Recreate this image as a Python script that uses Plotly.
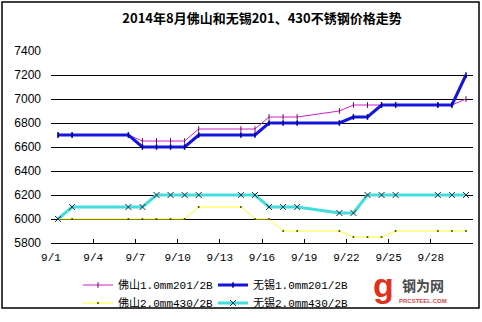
import plotly.graph_objects as go

# ---- data ----
dates = ["2014-09-01", "2014-09-02", "2014-09-06", "2014-09-07", "2014-09-08", "2014-09-09",
         "2014-09-10", "2014-09-11", "2014-09-14", "2014-09-15", "2014-09-16", "2014-09-17",
         "2014-09-18", "2014-09-21", "2014-09-22", "2014-09-23", "2014-09-24", "2014-09-25",
         "2014-09-28", "2014-09-29", "2014-09-30"]
foshan_201 = [6700, 6700, 6700, 6650, 6650, 6650, 6650, 6750, 6750, 6750, 6850, 6850,
              6850, 6900, 6950, 6950, 6950, 6950, 6950, 6950, 7000]
wuxi_201 = [6700, 6700, 6700, 6600, 6600, 6600, 6600, 6700, 6700, 6700, 6800, 6800,
            6800, 6800, 6850, 6850, 6950, 6950, 6950, 6950, 7200]
foshan_430 = [6000, 6000, 6000, 6000, 6000, 6000, 6000, 6100, 6100, 6000, 6000, 5900,
              5900, 5900, 5850, 5850, 5850, 5900, 5900, 5900, 5900]
wuxi_430 = [6000, 6100, 6100, 6100, 6200, 6200, 6200, 6200, 6200, 6200, 6100, 6100,
            6100, 6050, 6050, 6200, 6200, 6200, 6200, 6200, 6200]
series_names = ["佛山1.0mm201/2B", "无锡1.0mm201/2B", "佛山2.0mm430/2B", "无锡2.0mm430/2B"]
x_tick_vals = ["2014-09-01", "2014-09-04", "2014-09-07", "2014-09-10", "2014-09-13",
               "2014-09-16", "2014-09-19", "2014-09-22", "2014-09-25", "2014-09-28", "2014-10-01"]
x_tick_text = ["9/1", "9/4", "9/7", "9/10", "9/13", "9/16", "9/19", "9/22", "9/25", "9/28", ""]
title_text = "2014年8月佛山和无锡201、430不锈钢价格走势"

# ---- layout helpers (pixel -> paper / container) ----
W, H = 482, 322
L, R, T, B = 51, 9, 51, 79
PW, PH = W - L - R, H - T - B


def px(x):
    return (x - L) / PW


def py(y):
    return (H - B - y) / PH


def cx(x):
    return x / W


def cy(y):
    return 1 - y / H


DAY = 86400000
fig = go.Figure()
styles = [
    dict(line=dict(color="#CC22CC", width=1),
         marker=dict(symbol="line-ns", size=4, line=dict(color="#660066", width=1))),
    dict(line=dict(color="#1515DD", width=3),
         marker=dict(symbol="line-ns", size=4, line=dict(color="#000080", width=1.5))),
    dict(line=dict(color="#FFFF22", width=1),
         marker=dict(symbol="circle", size=2, color="#444400")),
    dict(line=dict(color="#44DDDD", width=3),
         marker=dict(symbol="x-thin", size=6, line=dict(color="#223344", width=1))),
]
legend_ids = ["legend", "legend", "legend2", "legend2"]
for name, vals, st, lg in zip(series_names, [foshan_201, wuxi_201, foshan_430, wuxi_430],
                              styles, legend_ids):
    fig.add_trace(go.Scatter(x=dates, y=vals, name=name, mode="lines+markers",
                             xperiod=DAY, xperiodalignment="middle",
                             line=st["line"], marker=st["marker"], legend=lg))

legend_common = dict(orientation="h", xref="container", yref="container",
                     xanchor="left", yanchor="middle",
                     entrywidth=90, entrywidthmode="pixels", tracegroupgap=0,
                     font=dict(family="Liberation Mono, Noto Sans CJK SC", size=11),
                     bgcolor="rgba(0,0,0,0)", itemwidth=30)

fig.update_layout(
    width=W, height=H,
    margin=dict(l=L, r=R, t=T, b=B, pad=0, autoexpand=False),
    paper_bgcolor="white", plot_bgcolor="white",
    font=dict(family="Liberation Mono, Noto Sans CJK SC", size=11, color="black"),
    title=dict(text=title_text, x=0.5, xref="paper", xanchor="center",
               y=1 - 18 / H, yanchor="middle",
               font=dict(family="Noto Sans CJK SC", size=13, color="black", weight="bold")),
    xaxis=dict(type="date", range=["2014-09-01", "2014-10-01"],
               tickmode="array", tickvals=x_tick_vals, ticktext=x_tick_text,
               showgrid=False, showline=True, linecolor="black", linewidth=1,
               ticks="inside", ticklen=4, tickcolor="black", tickwidth=1,
               ticklabelstandoff=4, zeroline=False,
               tickfont=dict(family="Liberation Mono, Noto Sans CJK SC", size=11)),
    yaxis=dict(range=[5800, 7400], dtick=200, tick0=5800, showgrid=True,
               gridcolor="black", gridwidth=1, showline=False, zeroline=False,
               ticks="", ticklabelstandoff=9,
               tickfont=dict(family="Liberation Sans, Arial", size=12)),
    legend=dict(legend_common, x=cx(78), y=cy(285)),
    legend2=dict(legend_common, x=cx(78), y=cy(303)),
    showlegend=True,
)

# chart border
fig.add_shape(type="rect", xref="paper", yref="paper",
              x0=px(2), x1=px(479), y0=py(308), y1=py(2),
              line=dict(color="black", width=1.5), fillcolor="rgba(0,0,0,0)", layer="below")

# logo
fig.add_annotation(text="<b>g</b>", xref="paper", yref="paper", x=px(383), y=py(285),
                   xanchor="center", yanchor="middle", showarrow=False,
                   font=dict(family="Liberation Sans", size=34, color="#E0301E"))
fig.add_annotation(text="<b>钢为网</b>", xref="paper", yref="paper", x=px(423), y=py(285),
                   xanchor="center", yanchor="middle", showarrow=False,
                   font=dict(family="Noto Sans CJK SC", size=14, color="#4a4a4a"))
fig.add_annotation(text="<b>PRCSTEEL.COM</b>", xref="paper", yref="paper", x=px(423), y=py(301),
                   xanchor="center", yanchor="middle", showarrow=False,
                   font=dict(family="Liberation Sans", size=6, color="#D04848"))

fig.write_html("out.html")
